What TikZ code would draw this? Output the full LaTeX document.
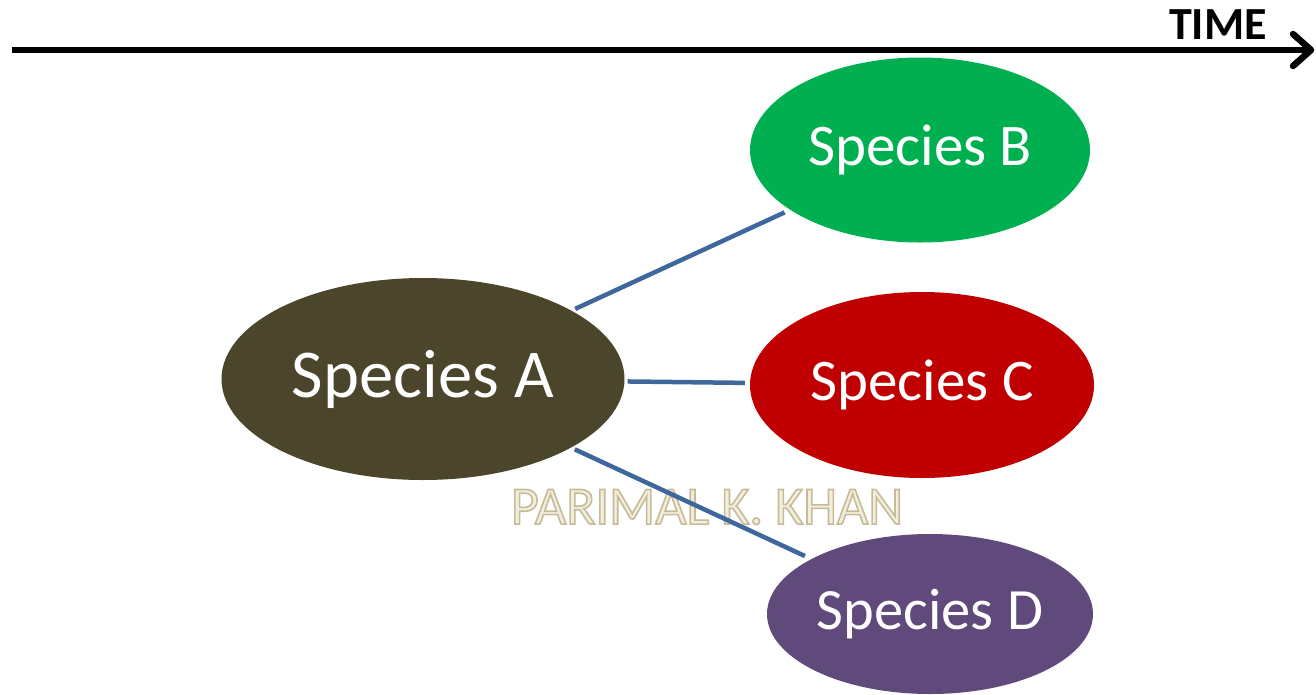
\documentclass[tikz,border=0pt]{standalone}
\usepackage{fontspec}
\setmainfont{Carlito}
\usetikzlibrary{shapes.geometric}
\definecolor{colA}{HTML}{4B452C}
\definecolor{colB}{HTML}{00B050}
\definecolor{colC}{HTML}{C00000}
\definecolor{colD}{HTML}{604A7B}
\definecolor{link}{HTML}{3F679C}
\definecolor{wmfill}{HTML}{F1EDE0}
\newcommand{\outlinetext}[1]{{\color{wmfill}\special{pdf:literal direct 2 Tr 1.6 w 0.776 0.733 0.584 RG}#1\special{pdf:literal direct 0 Tr}}}
\tikzset{
  species/.style={ellipse, inner sep=0pt, text=white},
  linkline/.style={link, line width=4.5pt, shorten <=4pt, shorten >=6pt},
  wm/.style={font=\fontsize{54}{56}\selectfont, inner sep=0pt},
}
\begin{document}
\begin{tikzpicture}[x=1pt,y=-1pt]
\useasboundingbox (0,0) rectangle (1316,694);
% time axis
\coordinate (t0) at (12,50);
\coordinate (t1) at (1311,50);
\draw[line width=6.5pt] (t0) -- (t1);
\draw[line width=6.5pt, line cap=round, line join=round] (1293,34) -- (t1) -- (1293,66);
\node[font=\bfseries\fontsize{46}{48}\selectfont, inner sep=0pt] (time) at (1218,25) {TIME};
% species
\node[species, fill=colA, minimum width=403pt, minimum height=202pt,
      font=\fontsize{68.5}{70}\selectfont] (A) at (423,379) {Species A};
\node[species, fill=colB, minimum width=340pt, minimum height=185pt,
      font=\fontsize{59}{61}\selectfont] (B) at (920,150) {Species B};
\node[species, fill=colC, minimum width=344pt, minimum height=186pt,
      font=\fontsize{59}{61}\selectfont] (C) at (922,385) {Species C};
\node[species, fill=colD, minimum width=326pt, minimum height=160pt,
      font=\fontsize{58.5}{60}\selectfont] (D) at (930,614) {Species D};
% watermark
\node[wm] (wm) at (707,507) {\outlinetext{PARIMAL K. KHAN}};
% links
\draw[linkline] (A) -- (B);
\draw[linkline, shorten <=3pt, shorten >=5pt] (A) -- (C);
\draw[linkline, shorten >=7pt] (A) -- (D);
\end{tikzpicture}
\end{document}
